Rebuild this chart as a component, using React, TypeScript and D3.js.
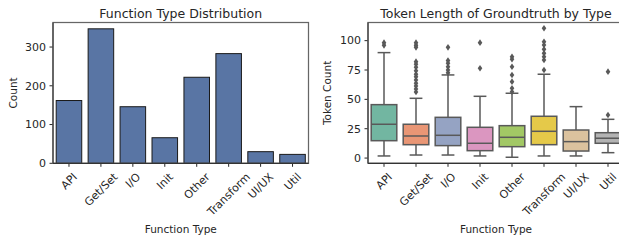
import React, { useEffect, useRef } from "react";
import * as d3 from "d3";

// categories shared by both panels
const categories = ["API", "Get/Set", "I/O", "Init", "Other", "Transform", "UI/UX", "Util"];

// left panel: number of functions per type
const counts = [162, 347, 146, 66, 222, 283, 30, 23];
const countTicks = [0, 100, 200, 300];

// right panel: box plot stats of token length
const whiskerLow = [1.8, 2.6, 2.6, 1.8, 0.7, 1.8, 1.8, 4.6];
const q1 = [14.8, 11.4, 10.6, 6.3, 9.7, 11.4, 6, 12.6];
const medians = [28.8, 18.8, 19.4, 12.6, 17.7, 22.8, 14, 16.9];
const q3 = [45.5, 28.8, 34.7, 26.2, 27.6, 35.6, 23.9, 21.6];
const whiskerHigh = [89.8, 50.9, 70.8, 52.6, 55.2, 71.4, 43.8, 33];
const outliers = [
  [98.3, 96],
  [98.3, 96, 94.3, 82.1, 79.9, 77.3, 74.4, 71.4, 69.3, 66.5, 63.7, 61.4, 58.8, 56.3],
  [94.3, 83, 80.7, 77.8, 75, 72.7],
  [98.3, 76.5],
  [86.3, 84.1, 77.8, 70.8, 65.1, 59.4, 56.5],
  [110.5, 99.1, 96.3, 92.6, 89.2, 86.3, 83.5, 75],
  [],
  [73.6, 36.7],
];
const tokenTicks = [0, 25, 50, 75, 100];

const palette = ["#66c2a5", "#fc8d62", "#8da0cb", "#e78ac3", "#a6d854", "#ffd92f", "#e5c494", "#b3b3b3"];

const desat = (c: string) => {
  const h = d3.hsl(c);
  h.s *= 0.75;
  return h.formatHex();
};

const FONT = "DejaVu Sans, sans-serif";
const TXT = "#262626";

const App = () => {
  const ref = useRef<SVGSVGElement>(null);

  useEffect(() => {
    const svg = d3.select(ref.current);
    svg.selectAll("*").remove();

    const top = 22.5;
    const bottom = 163.3;

    const drawAxes = (
      g: any,
      left: number,
      right: number,
      y: d3.ScaleLinear<number, number>,
      yTicks: number[],
      title: string,
      ylabel: string,
      ylabelX: number
    ) => {
      const x = d3.scaleBand().domain(categories).range([left, right]).padding(0);

      // x ticks
      categories.forEach(c => {
        const cx = x(c)! + x.bandwidth() / 2;
        g.append("line")
          .attr("x1", cx).attr("x2", cx)
          .attr("y1", bottom).attr("y2", bottom + 3.5)
          .attr("stroke", TXT).attr("stroke-width", 1);
        const t = g.append("text")
          .attr("font-family", FONT)
          .attr("font-size", 11)
          .attr("fill", TXT)
          .attr("text-anchor", "middle")
          .attr("dy", "0.35em")
          .text(c);
        const w = (t.node() as SVGTextElement).getComputedTextLength();
        const h = 11 * 1.17;
        const cy = bottom + 7 + (w + h) * 0.7071 / 2;
        t.attr("transform", `translate(${cx},${cy}) rotate(-45)`);
      });

      // y ticks
      yTicks.forEach(v => {
        g.append("line")
          .attr("x1", left - 3.5).attr("x2", left)
          .attr("y1", y(v)).attr("y2", y(v))
          .attr("stroke", TXT).attr("stroke-width", 1);
        g.append("text")
          .attr("x", left - 7)
          .attr("y", y(v))
          .attr("dy", "0.35em")
          .attr("text-anchor", "end")
          .attr("font-family", FONT)
          .attr("font-size", 11)
          .attr("fill", TXT)
          .text(v);
      });

      // frame
      g.append("rect")
        .attr("x", left).attr("y", top)
        .attr("width", right - left).attr("height", bottom - top)
        .attr("fill", "none")
        .attr("stroke", "#666")
        .attr("stroke-width", 1.25);
      g.append("line")
        .attr("x1", left).attr("x2", right)
        .attr("y1", bottom).attr("y2", bottom)
        .attr("stroke", "#333").attr("stroke-width", 1.25);
      g.append("line")
        .attr("x1", left).attr("x2", left)
        .attr("y1", top).attr("y2", bottom)
        .attr("stroke", "#444").attr("stroke-width", 1.25);

      g.append("text")
        .attr("x", (left + right) / 2)
        .attr("y", 17.5)
        .attr("text-anchor", "middle")
        .attr("font-family", FONT)
        .attr("font-size", 12.5)
        .attr("fill", TXT)
        .text(title);

      g.append("text")
        .attr("x", (left + right) / 2)
        .attr("y", 232.5)
        .attr("text-anchor", "middle")
        .attr("font-family", FONT)
        .attr("font-size", 10.5)
        .attr("fill", TXT)
        .text("Function Type");

      g.append("text")
        .attr("transform", `translate(${ylabelX},${(top + bottom) / 2}) rotate(-90)`)
        .attr("text-anchor", "middle")
        .attr("font-family", FONT)
        .attr("font-size", 10.5)
        .attr("fill", TXT)
        .text(ylabel);

      return x;
    };

    // ---- left: bar chart
    const gl = svg.append("g");
    const lLeft = 53, lRight = 308.5;
    const yl = d3.scaleLinear().domain([0, 363.3]).range([bottom, top]);
    const xl = d3.scaleBand().domain(categories).range([lLeft, lRight]).padding(0);
    const barW = xl.bandwidth() * 0.8;
    gl.selectAll("rect.bar")
      .data(counts)
      .enter()
      .append("rect")
      .attr("class", "bar")
      .attr("x", (d, i) => xl(categories[i])! + (xl.bandwidth() - barW) / 2)
      .attr("y", d => yl(d))
      .attr("width", barW)
      .attr("height", d => bottom - yl(d))
      .attr("fill", desat("#4c72b0"))
      .attr("stroke", "#1a1a1a")
      .attr("stroke-width", 1);
    drawAxes(gl, lLeft, lRight, yl, countTicks, "Function Type Distribution", "Count", 17);

    // ---- right: box plot
    const gr = svg.append("g");
    const rLeft = 368, rRight = 624;
    const yr = d3.scaleLinear().domain([-4.45, 115.45]).range([bottom, top]);
    const xr = d3.scaleBand().domain(categories).range([rLeft, rRight]).padding(0);
    const boxW = xr.bandwidth() * 0.8;
    const line = "#595959";
    const diamond = "M0,-3.3L2.3,0L0,3.3L-2.3,0Z";

    categories.forEach((c, i) => {
      const cx = xr(c)! + xr.bandwidth() / 2;
      const bg = gr.append("g");
      // whiskers
      bg.append("line")
        .attr("x1", cx).attr("x2", cx)
        .attr("y1", yr(q3[i])).attr("y2", yr(whiskerHigh[i]))
        .attr("stroke", line).attr("stroke-width", 1.5);
      bg.append("line")
        .attr("x1", cx).attr("x2", cx)
        .attr("y1", yr(q1[i])).attr("y2", yr(whiskerLow[i]))
        .attr("stroke", line).attr("stroke-width", 1.5);
      [whiskerHigh[i], whiskerLow[i]].forEach(v => {
        bg.append("line")
          .attr("x1", cx - boxW / 4).attr("x2", cx + boxW / 4)
          .attr("y1", yr(v)).attr("y2", yr(v))
          .attr("stroke", line).attr("stroke-width", 1.5);
      });
      // box
      bg.append("rect")
        .attr("x", cx - boxW / 2)
        .attr("y", yr(q3[i]))
        .attr("width", boxW)
        .attr("height", yr(q1[i]) - yr(q3[i]))
        .attr("fill", desat(palette[i]))
        .attr("stroke", line)
        .attr("stroke-width", 1.5);
      bg.append("line")
        .attr("x1", cx - boxW / 2).attr("x2", cx + boxW / 2)
        .attr("y1", yr(medians[i])).attr("y2", yr(medians[i]))
        .attr("stroke", line).attr("stroke-width", 1.5);
      // fliers
      bg.selectAll("path.flier")
        .data(outliers[i])
        .enter()
        .append("path")
        .attr("class", "flier")
        .attr("d", diamond)
        .attr("transform", d => `translate(${cx},${yr(d)})`)
        .attr("fill", line);
    });
    drawAxes(gr, rLeft, rRight, yr, tokenTicks, "Token Length of Groundtruth by Type", "Token Count", 331);
  }, []);

  return (
    <svg
      ref={ref}
      width={619}
      height={240}
      style={{ position: "absolute", left: 0, top: 0, background: "#fff" }}
    />
  );
};

export default App;
